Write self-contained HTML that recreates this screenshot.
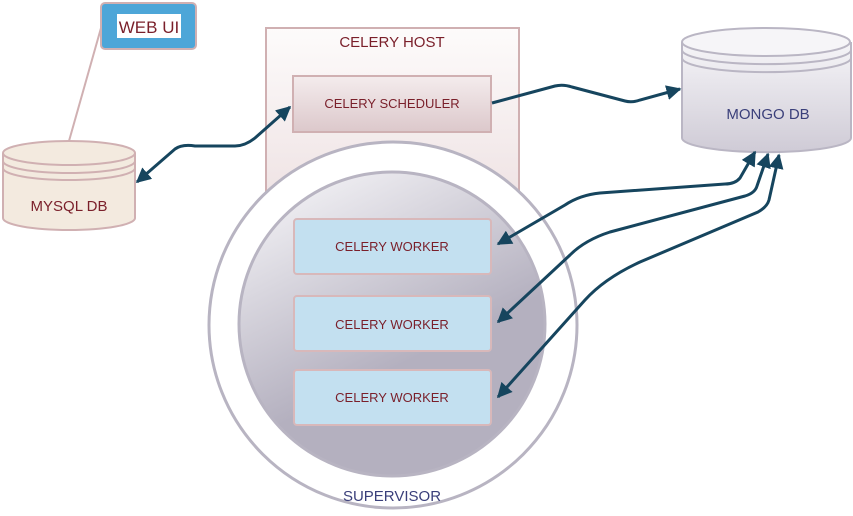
<!DOCTYPE html>
<html><head><meta charset="utf-8"><style>
html,body{margin:0;padding:0;background:#fff;}
svg{display:block;}
text{font-family:"Liberation Sans",sans-serif;}
</style></head><body>
<svg width="853" height="516" viewBox="0 0 853 516" xmlns="http://www.w3.org/2000/svg">
<defs>
<linearGradient id="host" x1="0" y1="0" x2="0" y2="1"><stop offset="0" stop-color="#fdfbfb"/><stop offset="1" stop-color="#efe3e4"/></linearGradient>
<linearGradient id="sched" x1="0" y1="0" x2="0" y2="1"><stop offset="0" stop-color="#f4eced"/><stop offset="1" stop-color="#dcc8cb"/></linearGradient>
<linearGradient id="inner" x1="0.3" y1="0" x2="0.6" y2="0.6"><stop offset="0" stop-color="#efeef2"/><stop offset="1" stop-color="#b4b0bf"/></linearGradient>
<linearGradient id="mongo" x1="0" y1="0" x2="0" y2="1"><stop offset="0" stop-color="#f6f5f8"/><stop offset="1" stop-color="#cfcbd6"/></linearGradient>
<marker id="ah" viewBox="0 0 10 10" refX="9" refY="5" markerWidth="5" markerHeight="5" orient="auto-start-reverse"><path d="M0,0 L10,5 L0,10 z" fill="#16455e"/></marker>
</defs>
<line x1="101" y1="28" x2="69" y2="141" stroke="#d0b0b2" stroke-width="2"/>
<rect x="101" y="3" width="95" height="46" rx="4" fill="#4da6d8" stroke="#d0b0b2" stroke-width="2"/>
<rect x="117" y="14" width="64" height="24" fill="#fff"/>
<text x="149" y="33" font-size="17" fill="#7a1f2a" text-anchor="middle">WEB UI</text>
<path d="M3,153 L3,218 A66,12 0 0 0 135,218 L135,153" fill="#f3eadf" stroke="#d0b0b2" stroke-width="2"/>
<ellipse cx="69" cy="153" rx="66" ry="12" fill="#f3eadf" stroke="#d0b0b2" stroke-width="2"/>
<path d="M3,161 A66,12 0 0 0 135,161 M3,168 A66,12 0 0 0 135,168" fill="none" stroke="#d0b0b2" stroke-width="2"/>
<text x="69" y="211" font-size="15" fill="#7a1f2a" text-anchor="middle">MYSQL DB</text>
<rect x="266" y="28" width="253" height="170" fill="url(#host)" stroke="#d0b0b2" stroke-width="2"/>
<text x="392" y="47" font-size="15" fill="#7a1f2a" text-anchor="middle">CELERY HOST</text>
<rect x="293" y="76" width="198" height="56" fill="url(#sched)" stroke="#d0b0b2" stroke-width="2"/>
<text x="392" y="108" font-size="13" fill="#7a1f2a" text-anchor="middle">CELERY SCHEDULER</text>
<ellipse cx="393" cy="325" rx="184" ry="183" fill="#fff" stroke="#b8b4c2" stroke-width="3"/>
<ellipse cx="392" cy="324" rx="153" ry="152" fill="url(#inner)" stroke="#b8b4c2" stroke-width="3"/>
<text x="392" y="501" font-size="15" fill="#3a3f7a" text-anchor="middle">SUPERVISOR</text>
<rect x="294" y="219" width="197" height="55" rx="3" fill="#c3e0f0" stroke="#d8b8ba" stroke-width="2"/>
<text x="392" y="251" font-size="13" fill="#7a1f2a" text-anchor="middle">CELERY WORKER</text>
<rect x="294" y="296" width="197" height="55" rx="3" fill="#c3e0f0" stroke="#d8b8ba" stroke-width="2"/>
<text x="392" y="329" font-size="13" fill="#7a1f2a" text-anchor="middle">CELERY WORKER</text>
<rect x="294" y="370" width="197" height="55" rx="3" fill="#c3e0f0" stroke="#d8b8ba" stroke-width="2"/>
<text x="392" y="402" font-size="13" fill="#7a1f2a" text-anchor="middle">CELERY WORKER</text>
<path d="M682,42 L682,138 A84,14 0 0 0 851,138 L851,42" fill="url(#mongo)" stroke="#bab6c4" stroke-width="2"/>
<ellipse cx="766" cy="42" rx="84" ry="14" fill="#f6f5f8" stroke="#bab6c4" stroke-width="2"/>
<path d="M682,50 A84,14 0 0 0 851,50 M682,58 A84,14 0 0 0 851,58" fill="none" stroke="#bab6c4" stroke-width="2"/>
<text x="768" y="119" font-size="15" fill="#3a3f7a" text-anchor="middle">MONGO DB</text>
<g fill="none" stroke="#16455e" stroke-width="3">
<path d="M137,182 L175,149 Q182,144 195,146 L235,146 Q245,146 255,138 L290,107" marker-start="url(#ah)" marker-end="url(#ah)"/>
<path d="M492,103 L555,86 Q563,84 572,87 L625,101 Q632,103 640,100 L680,89" marker-end="url(#ah)"/>
<path d="M755,152 L740,178 Q735,184 725,184 L600,193 Q580,195 565,205 L498,244" marker-start="url(#ah)" marker-end="url(#ah)"/>
<path d="M768,154 L757,186 Q755,193 745,196 L610,232 Q585,240 570,255 L498,322" marker-start="url(#ah)" marker-end="url(#ah)"/>
<path d="M779,155 L769,200 Q767,207 758,212 L640,262 Q605,278 585,300 L498,397" marker-start="url(#ah)" marker-end="url(#ah)"/>
</g>
</svg>
</body></html>
